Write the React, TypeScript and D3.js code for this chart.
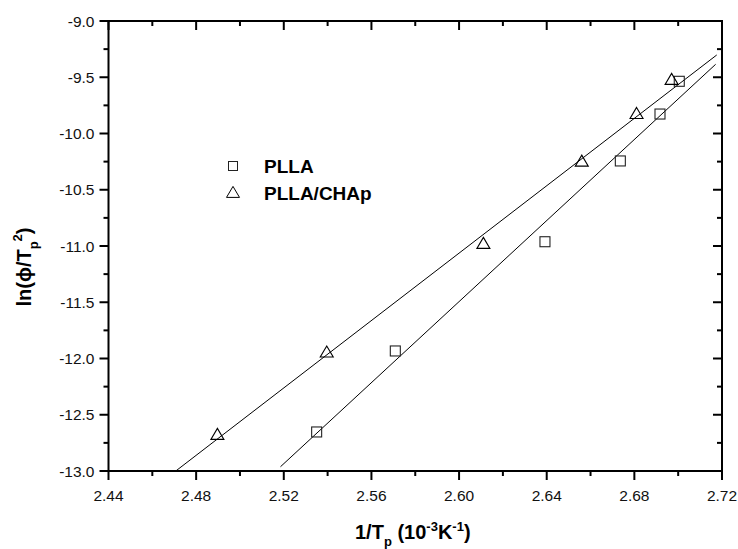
import React from "react";
import * as d3 from "d3";

const plla_x = [2.535, 2.5709, 2.6392, 2.6736, 2.6917, 2.7005];
const plla_y = [-12.653, -11.933, -10.962, -10.244, -9.827, -9.536];
const chap_x = [2.4897, 2.5396, 2.6111, 2.656, 2.681, 2.697];
const chap_y = [-12.68, -11.948, -10.982, -10.251, -9.827, -9.524];
const fitPllaX = [2.5185, 2.7171];
const fitPllaY = [-12.962, -9.385];
const fitChapX = [2.4707, 2.7176];
const fitChapY = [-13.0, -9.302];
const xTicks = [2.44, 2.48, 2.52, 2.56, 2.6, 2.64, 2.68, 2.72];
const yTicks = [-13, -12.5, -12, -11.5, -11, -10.5, -10, -9.5, -9];
const xMinor = [2.46, 2.5, 2.54, 2.58, 2.62, 2.66, 2.7];
const yMinor = [-12.75, -12.25, -11.75, -11.25, -10.75, -10.25, -9.75, -9.25];
const legendLabels = ["PLLA", "PLLA/CHAp"];

const W = 738, H = 549;
const L = 108.5, R = 722, T = 21, B = 471;
const font = "'Liberation Sans', Arial, sans-serif";

export default function App() {
  const x = d3.scaleLinear().domain([2.44, 2.72]).range([L, R]);
  const y = d3.scaleLinear().domain([-13, -9]).range([B, T]);
  const line = d3.line<[number, number]>().x(d => x(d[0])).y(d => y(d[1]));
  const sq = 10;
  const tri = (cx: number, cy: number) => {
    const w = 13, h = 11;
    return `M${cx},${cy - h * 0.6}L${cx + w / 2},${cy + h * 0.4}L${cx - w / 2},${cy + h * 0.4}Z`;
  };
  const fitP = fitPllaX.map((v, i) => [v, fitPllaY[i]] as [number, number]);
  const fitC = fitChapX.map((v, i) => [v, fitChapY[i]] as [number, number]);
  return (
    <svg width={W} height={H} style={{ position: "absolute", left: 0, top: 0, background: "#fff" }} fontFamily={font}>
      <rect x={0} y={0} width={W} height={H} fill="#fff" />
      <path d={line(fitP) || ""} fill="none" stroke="#000" strokeWidth={1} />
      <path d={line(fitC) || ""} fill="none" stroke="#000" strokeWidth={1} />
      {plla_x.map((v, i) => (
        <rect key={"p" + i} x={x(v) - sq / 2} y={y(plla_y[i]) - sq / 2} width={sq} height={sq} fill="none" stroke="#222" strokeWidth={1.1} />
      ))}
      {chap_x.map((v, i) => (
        <path key={"c" + i} d={tri(x(v), y(chap_y[i]))} fill="none" stroke="#000" strokeWidth={1.1} />
      ))}
      <rect x={L} y={T} width={R - L} height={B - T} fill="none" stroke="#000" strokeWidth={2} />
      {xTicks.map((t, i) => (
        <g key={"xt" + i}>
          <line x1={x(t)} x2={x(t)} y1={B} y2={B + 9} stroke="#000" strokeWidth={2} />
          <line x1={x(t)} x2={x(t)} y1={T} y2={T + 9} stroke="#000" strokeWidth={2} />
          <text x={x(t)} y={B + 30} textAnchor="middle" fontSize={15.5} fill="#111">{t.toFixed(2)}</text>
        </g>
      ))}
      {xMinor.map((t, i) => (
        <g key={"xm" + i}>
          <line x1={x(t)} x2={x(t)} y1={B} y2={B + 5} stroke="#000" strokeWidth={2} />
          <line x1={x(t)} x2={x(t)} y1={T} y2={T + 5} stroke="#000" strokeWidth={2} />
        </g>
      ))}
      {yTicks.map((t, i) => (
        <g key={"yt" + i}>
          <line x1={L - 9} x2={L} y1={y(t)} y2={y(t)} stroke="#000" strokeWidth={2} />
          <line x1={R - 9} x2={R} y1={y(t)} y2={y(t)} stroke="#000" strokeWidth={2} />
          <text x={L - 14} y={y(t) + 5.5} textAnchor="end" fontSize={15.5} fill="#111">{t.toFixed(1)}</text>
        </g>
      ))}
      {yMinor.map((t, i) => (
        <g key={"ym" + i}>
          <line x1={L - 5} x2={L} y1={y(t)} y2={y(t)} stroke="#000" strokeWidth={2} />
          <line x1={R - 5} x2={R} y1={y(t)} y2={y(t)} stroke="#000" strokeWidth={2} />
        </g>
      ))}
      <rect x={233 - 4.5} y={166 - 4.5} width={9} height={9} fill="none" stroke="#222" strokeWidth={1} />
      <path d={tri(233, 193)} fill="none" stroke="#000" strokeWidth={1} />
      <text x={264} y={173} fontSize={19} fontWeight="bold">{legendLabels[0]}</text>
      <text x={264} y={200} fontSize={19} fontWeight="bold">{legendLabels[1]}</text>
      <text x={355} y={539} fontSize={20} fontWeight="bold">
        1/T<tspan fontSize={13} dy={7}>p</tspan>
        <tspan dy={-7}> (10</tspan>
        <tspan fontSize={13} dy={-8}>-3</tspan>
        <tspan dy={8}>K</tspan>
        <tspan fontSize={13} dy={-8}>-1</tspan>
        <tspan dy={8}>)</tspan>
      </text>
      <text transform={`translate(31, 267) rotate(-90)`} textAnchor="middle" fontSize={20} fontWeight="bold">
        ln(ϕ/T<tspan fontSize={13} dy={7}>p</tspan>
        <tspan fontSize={13} dy={-16}>2</tspan>
        <tspan dy={9}>)</tspan>
      </text>
    </svg>
  );
}
